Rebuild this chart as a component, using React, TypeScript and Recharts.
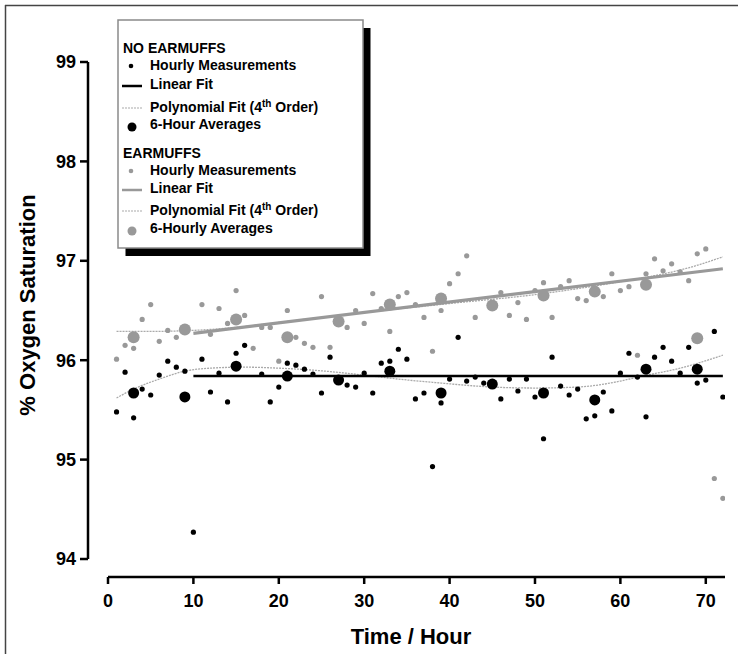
import { ComposedChart, Scatter, Line, XAxis, YAxis, ReferenceLine } from "recharts";

const xTicks = [0, 10, 20, 30, 40, 50, 60, 70];
const yTicks = [94, 95, 96, 97, 98, 99];

// [hour, % saturation]
const noEarHourly: [number, number][] = [
  [1, 95.48], [2, 95.88], [3, 95.42], [4, 95.71], [5, 95.65], [6, 95.85],
  [7, 95.99], [8, 95.93], [9, 95.89], [10, 94.27], [11, 96.01], [12, 95.68],
  [13, 95.87], [14, 95.58], [15, 96.07], [16, 96.15], [18, 95.86], [19, 95.58],
  [20, 95.73], [21, 95.97], [22, 95.95], [23, 95.91], [24, 95.86], [25, 95.67],
  [26, 96.03], [28, 95.75], [29, 95.73], [30, 95.87], [31, 95.67], [32, 95.97],
  [33, 95.99], [34, 96.11], [35, 96.01], [36, 95.61], [37, 95.67], [38, 94.93],
  [39, 95.57], [40, 95.81], [41, 96.23], [42, 95.79], [43, 95.83], [44, 95.77],
  [46, 95.61], [47, 95.81], [48, 95.69], [49, 95.81], [50, 95.63], [51, 95.21],
  [52, 96.03], [53, 95.74], [54, 95.65], [55, 95.71], [56, 95.41], [57, 95.44],
  [58, 95.68], [59, 95.49], [60, 95.87], [61, 96.07], [62, 95.83], [63, 95.43],
  [64, 96.03], [65, 96.13], [66, 95.99], [67, 95.87], [68, 96.13], [69, 95.77],
  [70, 95.8], [71, 96.29], [72, 95.63],
];
const noEarAverages: [number, number][] = [
  [3, 95.67], [9, 95.63], [15, 95.94], [21, 95.84], [27, 95.8], [33, 95.89],
  [39, 95.67], [45, 95.76], [51, 95.67], [57, 95.6], [63, 95.91], [69, 95.91],
];
const noEarLinear: [number, number][] = [[10, 95.84], [72, 95.84]];
const noEarPoly: [number, number][] = [
  [1, 95.62], [3, 95.71], [6, 95.81], [9, 95.89], [12, 95.92], [16, 95.93],
  [20, 95.92], [24, 95.9], [30, 95.85], [34, 95.81], [39, 95.77], [45, 95.73],
  [50, 95.72], [55, 95.73], [60, 95.79], [62, 95.83], [67, 95.92], [72, 96.05],
];

const earHourly: [number, number][] = [
  [1, 96.01], [2, 96.15], [3, 96.12], [4, 96.41], [5, 96.56], [6, 96.19],
  [7, 96.3], [8, 96.23], [11, 96.56], [12, 96.26], [13, 96.52], [14, 96.37],
  [15, 96.7], [16, 96.45], [17, 96.12], [18, 96.33], [19, 96.33], [20, 95.99],
  [21, 96.5], [22, 96.23], [23, 96.17], [24, 96.13], [25, 96.64], [26, 96.13],
  [28, 96.33], [29, 96.5], [30, 96.37], [31, 96.67], [32, 96.52], [33, 96.29],
  [34, 96.64], [35, 96.68], [36, 96.56], [37, 96.43], [38, 96.09], [39, 96.5],
  [40, 96.77], [41, 96.87], [42, 97.05], [43, 96.43], [46, 96.68], [47, 96.45],
  [48, 96.58], [49, 96.41], [50, 96.7], [51, 96.78], [52, 96.43], [53, 96.74],
  [54, 96.8], [55, 96.62], [56, 96.6], [58, 96.64], [59, 96.87], [60, 96.7],
  [61, 96.74], [62, 96.05], [63, 96.87], [64, 97.02], [65, 96.9], [66, 96.97],
  [67, 96.89], [68, 96.8], [69, 97.07], [70, 97.12], [71, 94.81], [72, 94.61],
];
const earAverages: [number, number][] = [
  [3, 96.23], [9, 96.31], [15, 96.41], [21, 96.23], [27, 96.39], [33, 96.56],
  [39, 96.62], [45, 96.55], [51, 96.65], [57, 96.69], [63, 96.76], [69, 96.22],
];
const earLinear: [number, number][] = [[10, 96.27], [72, 96.92]];
const earPoly: [number, number][] = [
  [1, 96.29], [5, 96.29], [10, 96.3], [15, 96.33], [20, 96.38], [30, 96.48],
  [40, 96.57], [50, 96.66], [55, 96.72], [60, 96.79], [64, 96.85], [68, 96.93],
  [72, 97.04],
];

const rows = (pts: [number, number][]) => pts.map(([h, v]) => ({ h, v }));

const dot = (r: number, fill: string) => (p: any) =>
  <circle cx={p.cx} cy={p.cy} r={r} fill={fill} />;

const BLACK = "#000";
const GRAY = "#999";
const POLY = "#aaa";
const FONT = "'Liberation Sans', Arial, Helvetica, sans-serif";

function LegendBox() {
  const text = { fontFamily: FONT, fontWeight: 700, fontSize: 14, fill: "#000" } as const;
  const th = (
    <>
      Polynomial Fit (4<tspan dy={-5} fontSize={10}>th</tspan>
      <tspan dy={5}> Order)</tspan>
    </>
  );
  return (
    <g>
      <rect x={125.5} y={28} width={245} height={228} fill="#000" />
      <rect x={118} y={20} width={245} height={228} fill="#fff" stroke="#8a8a8a" strokeWidth={1.5} />
      <text x={123} y={53} {...text}>NO EARMUFFS</text>
      <circle cx={131} cy={66} r={2.3} fill={BLACK} />
      <text x={150} y={70} {...text}>Hourly Measurements</text>
      <line x1={122} x2={142} y1={86} y2={86} stroke={BLACK} strokeWidth={2.5} />
      <text x={150} y={89} {...text}>Linear Fit</text>
      <line x1={122} x2={142} y1={108} y2={108} stroke={POLY} strokeWidth={1.2} strokeDasharray="2 1" />
      <text x={150} y={112} {...text}>{th}</text>
      <circle cx={132} cy={127} r={4.5} fill={BLACK} />
      <text x={150} y={129} {...text}>6-Hour Averages</text>

      <text x={123} y={158} {...text}>EARMUFFS</text>
      <circle cx={131} cy={171} r={2.3} fill={GRAY} />
      <text x={150} y={175} {...text}>Hourly Measurements</text>
      <line x1={122} x2={142} y1={190} y2={190} stroke={GRAY} strokeWidth={2.5} />
      <text x={150} y={193} {...text}>Linear Fit</text>
      <line x1={122} x2={142} y1={211} y2={211} stroke={POLY} strokeWidth={1.2} strokeDasharray="2 1" />
      <text x={150} y={215} {...text}>{th}</text>
      <circle cx={132} cy={231} r={4.5} fill={GRAY} />
      <text x={150} y={233} {...text}>6-Hourly Averages</text>
    </g>
  );
}

export default function App() {
  const tickStyle = { fill: "#000", fontSize: 18, fontWeight: 700, fontFamily: FONT };
  return (
    <div style={{ position: "absolute", left: 0, top: 0, width: 738, height: 654, background: "#fff" }}>
      <ComposedChart
        width={738}
        height={654}
        margin={{ top: 62, right: 13, left: 28, bottom: 7 }}
      >
        <XAxis
          type="number"
          dataKey="h"
          domain={[-2.342, 72.25]}
          allowDataOverflow
          ticks={xTicks}
          height={70}
          axisLine={false}
          tickLine={{ stroke: "#000", strokeWidth: 2.5 }}
          tickSize={7}
          tickMargin={10}
          tick={tickStyle}
        />
        <YAxis
          type="number"
          dataKey="v"
          domain={[93.819, 99]}
          allowDataOverflow
          ticks={yTicks}
          width={60}
          axisLine={false}
          tickLine={{ stroke: "#000", strokeWidth: 2.5 }}
          tickSize={8}
          tickMargin={4}
          tick={tickStyle}
        />
        <ReferenceLine
          segment={[{ x: -2.342, y: 94 }, { x: -2.342, y: 99 }]}
          stroke="#000"
          strokeWidth={2.5}
          ifOverflow="visible"
        />
        <ReferenceLine
          segment={[{ x: 0, y: 93.819 }, { x: 72.25, y: 93.819 }]}
          stroke="#000"
          strokeWidth={2.5}
          ifOverflow="visible"
        />
        <Line data={rows(earPoly)} dataKey="v" type="monotone" stroke={POLY} strokeWidth={1.3} strokeDasharray="2 1" dot={false} isAnimationActive={false} />
        <Line data={rows(noEarPoly)} dataKey="v" type="monotone" stroke={POLY} strokeWidth={1.3} strokeDasharray="2 1" dot={false} isAnimationActive={false} />
        <Scatter data={rows(earHourly)} dataKey="v" shape={dot(2.6, GRAY)} isAnimationActive={false} />
        <Scatter data={rows(noEarHourly)} dataKey="v" shape={dot(2.6, BLACK)} isAnimationActive={false} />
        <Line data={rows(earLinear)} dataKey="v" type="linear" stroke={GRAY} strokeWidth={3.2} dot={false} isAnimationActive={false} />
        <Line data={rows(noEarLinear)} dataKey="v" type="linear" stroke={BLACK} strokeWidth={2.5} dot={false} isAnimationActive={false} />
        <Scatter data={rows(earAverages)} dataKey="v" shape={dot(6, GRAY)} isAnimationActive={false} />
        <Scatter data={rows(noEarAverages)} dataKey="v" shape={dot(5.5, BLACK)} isAnimationActive={false} />
      </ComposedChart>
      <svg
        width={738}
        height={654}
        style={{ position: "absolute", left: 0, top: 0, pointerEvents: "none" }}
      >
        <line x1={5} x2={738} y1={5.5} y2={5.5} stroke="#444" strokeWidth={1.5} />
        <line x1={5.5} x2={5.5} y1={5} y2={654} stroke="#444" strokeWidth={1.5} />
        <text
          x={27}
          y={305}
          transform="rotate(-90 27 305)"
          textAnchor="middle"
          dominantBaseline="central"
          fontFamily={FONT}
          fontWeight={700}
          fontSize={22}
        >
          % Oxygen Saturation
        </text>
        <text x={411} y={644} textAnchor="middle" fontFamily={FONT} fontWeight={700} fontSize={22}>
          Time / Hour
        </text>
        <LegendBox />
      </svg>
    </div>
  );
}
